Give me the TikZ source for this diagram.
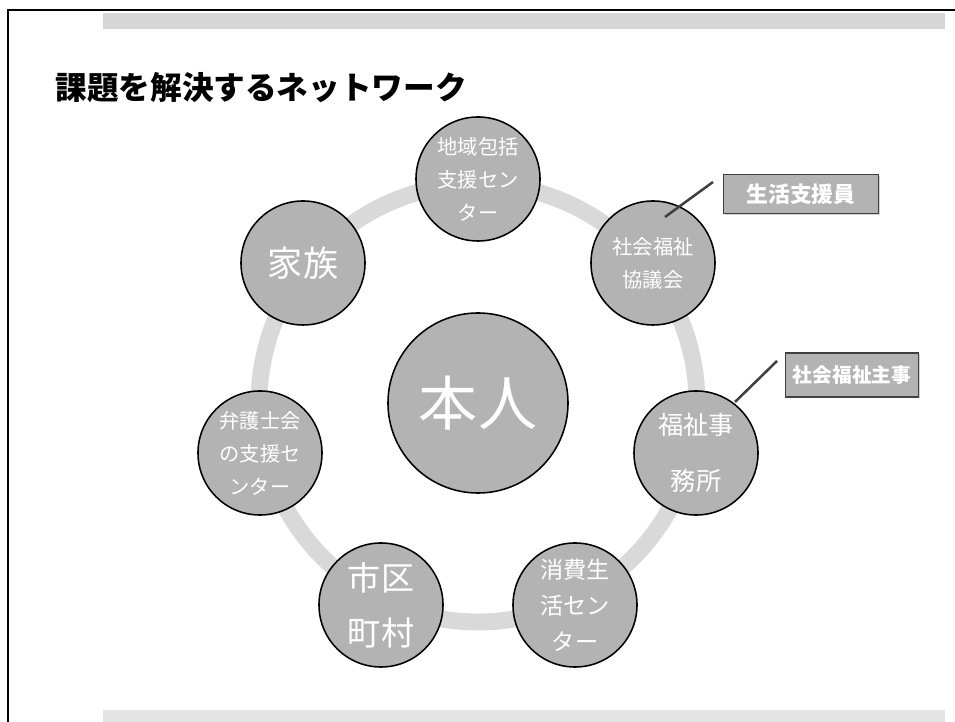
\documentclass[tikz,border=0pt]{standalone}
\usepackage{fontspec}
\setmainfont{Noto Sans CJK JP}
\usepackage{xcolor}
\usetikzlibrary{shadows}

\definecolor{ringgray}{HTML}{D9D9D9}
\definecolor{nodegray}{HTML}{B3B3B3}
\definecolor{bargray}{HTML}{D6D6D6}
\definecolor{barlight}{HTML}{E4E4E4}

\begin{document}
\begin{tikzpicture}[x=0.025cm, y=0.025cm, line width=1.1pt,
    member/.style={circle, draw, fill=nodegray, text=white, minimum size=3.1cm, inner sep=0pt, align=center},
    role/.style={draw=black!75, line width=0.9pt, fill=nodegray, text=white, inner sep=0pt, drop shadow={shadow xshift=1pt, shadow yshift=-1pt, fill=black!35}},
    callout/.style={draw=black!75, line width=1.8pt}]
  \useasboundingbox (0,0) rectangle (955,722);

  % page frame and bars
  \fill[bargray] (103,693) rectangle (945,709);
  \fill[barlight] (103,0) rectangle (945,12);
  \draw[line width=1.4pt] (8,0) -- (8,712) -- (955,712);

  \node[anchor=west, font=\fontsize{22.5}{27}\selectfont\bfseries] (T) at (50,634) {課題を解決するネットワーク};

  % ring
  \draw[ringgray, line width=12pt] (478,319) circle (219);

  \node[member, minimum size=4.5cm, font=\fontsize{42}{50}\selectfont] (P) at (478,319) {本人};

  \node[member, font=\fontsize{14.4}{23.4}\selectfont] (A) at (478,543) {地域包括\\支援セン\\ター};
  \node[member, font=\fontsize{14.4}{23.4}\selectfont] (B) at (653,459) {社会福祉\\協議会};
  \node[member, font=\fontsize{18}{40}\selectfont] (C) at (696,269) {福祉事\\務所};
  \node[member, font=\fontsize{16.5}{25.5}\selectfont] (D) at (575,117) {消費生\\活セン\\ター};
  \node[member, font=\fontsize{23.5}{39}\selectfont] (E) at (381,117) {市区\\町村};
  \node[member, font=\fontsize{14.4}{23.4}\selectfont] (F) at (260,269) {弁護士会\\の支援セ\\ンター};
  \node[member, font=\fontsize{25}{30}\selectfont] (G) at (303,459) {家族};

  % roles
  \node[role, minimum width=3.875cm, minimum height=0.975cm, font=\fontsize{15.5}{18}\selectfont\bfseries] (R1) at (801,528) {生活支援員};
  \node[role, minimum width=3.325cm, minimum height=1.1cm, font=\fontsize{14}{17}\selectfont\bfseries] (R2) at (852,347) {社会福祉主事};

  \coordinate (s1) at (665,505);
  \coordinate (e1) at (713,540);
  \coordinate (s2) at (735,320);
  \coordinate (e2) at (777,361);
  \draw[callout] (s1) -- (e1);
  \draw[callout] (s2) -- (e2);
\end{tikzpicture}
\end{document}
